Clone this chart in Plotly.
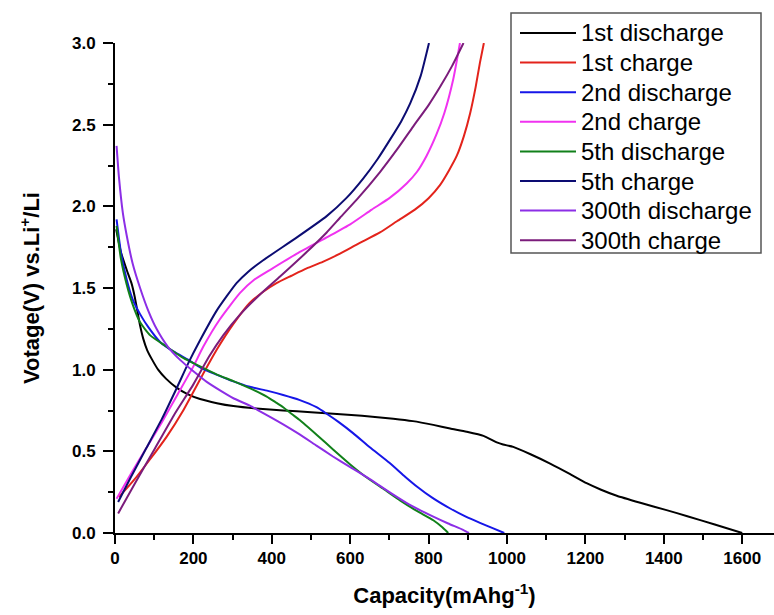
import plotly.graph_objects as go

# Galvanostatic charge/discharge profiles: capacity (mAh g^-1) vs voltage (V vs. Li+/Li)

cap_dis_1 = [3, 15, 30, 42, 50, 57, 64, 72, 82, 95, 110, 130, 157, 185, 217, 260, 302, 360, 429,
             500, 557, 630, 710, 760, 812, 855, 897, 940, 974, 990, 1016, 1060, 1110, 1160,
             1203, 1240, 1280, 1340, 1407, 1460, 1530, 1600]
volt_dis_1 = [1.86, 1.72, 1.61, 1.53, 1.45, 1.36, 1.27, 1.19, 1.12, 1.06, 1.00, 0.945, 0.89,
              0.85, 0.82, 0.795, 0.777, 0.762, 0.75, 0.74, 0.73, 0.718, 0.70, 0.685, 0.662, 0.64,
              0.62, 0.595, 0.555, 0.542, 0.527, 0.482, 0.425, 0.362, 0.305, 0.265, 0.228, 0.185,
              0.14, 0.103, 0.052, 0.0]

cap_chg_1 = [10, 47, 89, 132, 174, 217, 259, 302, 344, 380, 412, 450, 489, 530, 574, 620, 676,
             720, 765, 800, 829, 852, 872, 890, 906, 920, 931, 941]
volt_chg_1 = [0.22, 0.32, 0.45, 0.59, 0.75, 0.94, 1.12, 1.28, 1.41, 1.48, 1.53, 1.575, 1.62, 1.66,
              1.71, 1.77, 1.84, 1.91, 1.98, 2.05, 2.13, 2.22, 2.31, 2.43, 2.57, 2.73, 2.88, 3.0]

cap_dis_2 = [4, 15, 30, 45, 64, 85, 115, 150, 187, 220, 259, 300, 344, 390, 429, 470, 514, 540,
             570, 608, 650, 700, 740, 770, 810, 855, 895, 931, 965, 993]
volt_dis_2 = [1.92, 1.72, 1.55, 1.43, 1.34, 1.26, 1.17, 1.11, 1.06, 1.01, 0.97, 0.93, 0.895, 0.87,
              0.845, 0.815, 0.77, 0.73, 0.68, 0.61, 0.525, 0.43, 0.345, 0.285, 0.215, 0.15, 0.10,
              0.062, 0.028, 0.0]

cap_chg_2 = [4, 40, 80, 120, 160, 200, 225, 268, 319, 355, 395, 464, 540, 600, 655, 700, 744, 770,
             795, 820, 840, 863, 880]
volt_chg_2 = [0.21, 0.36, 0.52, 0.68, 0.85, 1.02, 1.14, 1.31, 1.47, 1.55, 1.61, 1.71, 1.81, 1.89,
              1.98, 2.05, 2.14, 2.21, 2.31, 2.44, 2.57, 2.78, 3.0]

cap_dis_5 = [4, 15, 30, 45, 64, 90, 132, 175, 217, 260, 302, 345, 387, 410, 429, 450, 472, 515,
             557, 600, 642, 685, 727, 770, 812, 835, 850]
volt_dis_5 = [1.88, 1.68, 1.52, 1.40, 1.29, 1.21, 1.14, 1.07, 1.02, 0.97, 0.93, 0.885, 0.835, 0.80,
              0.77, 0.73, 0.69, 0.60, 0.51, 0.42, 0.34, 0.27, 0.20, 0.135, 0.078, 0.035, 0.0]

cap_chg_5 = [8, 40, 80, 120, 157, 187, 217, 259, 285, 310, 340, 378, 464, 540, 590, 633, 670, 702,
             730, 753, 780, 801]
volt_chg_5 = [0.19, 0.34, 0.52, 0.70, 0.885, 1.04, 1.18, 1.36, 1.45, 1.53, 1.60, 1.67, 1.81, 1.94,
              2.05, 2.17, 2.29, 2.41, 2.52, 2.63, 2.80, 3.0]

cap_dis_300 = [4, 10, 20, 30, 45, 64, 85, 106, 135, 166, 200, 234, 270, 302, 344, 370, 400, 429,
               470, 514, 555, 599, 650, 700, 750, 812, 850, 889, 903]
volt_dis_300 = [2.37, 2.18, 1.96, 1.82, 1.65, 1.50, 1.36, 1.25, 1.14, 1.06, 0.99, 0.925, 0.87,
                0.825, 0.78, 0.745, 0.705, 0.665, 0.605, 0.535, 0.47, 0.405, 0.33, 0.25, 0.175,
                0.10, 0.058, 0.018, 0.0]

cap_chg_300 = [8, 50, 100, 150, 200, 240, 276, 320, 370, 421, 489, 540, 574, 620, 676, 720, 761,
               800, 829, 860, 889]
volt_chg_300 = [0.12, 0.30, 0.51, 0.72, 0.91, 1.08, 1.21, 1.34, 1.46, 1.57, 1.72, 1.84, 1.93, 2.05,
                2.21, 2.35, 2.49, 2.62, 2.73, 2.86, 3.0]

curve_names = ["1st discharge", "1st charge", "2nd discharge", "2nd charge",
               "5th discharge", "5th charge", "300th discharge", "300th charge"]
curve_caps = [cap_dis_1, cap_chg_1, cap_dis_2, cap_chg_2,
              cap_dis_5, cap_chg_5, cap_dis_300, cap_chg_300]
curve_volts = [volt_dis_1, volt_chg_1, volt_dis_2, volt_chg_2,
               volt_dis_5, volt_chg_5, volt_dis_300, volt_chg_300]
curve_colors = ["#000000", "#e3231b", "#1616e8", "#f032f0",
                "#11801a", "#0c0c72", "#8c2ee6", "#7b1c7b"]

x_ticks = [0, 200, 400, 600, 800, 1000, 1200, 1400, 1600]
y_ticks = [0.0, 0.5, 1.0, 1.5, 2.0, 2.5, 3.0]

# canvas geometry (pixels)
W, H = 774, 615
ML, MR, MT, MB = 115, 0, 43, 82
PX_PER_CAP = 0.392

FONT = "Liberation Sans, Arial, sans-serif"

fig = go.Figure()
for name, xs, ys, col in zip(curve_names, curve_caps, curve_volts, curve_colors):
    fig.add_trace(go.Scatter(
        x=xs, y=ys, mode="lines", name=name,
        line=dict(color=col, width=2, shape="spline", smoothing=0.5),
        showlegend=False,
    ))

plot_w = W - ML - MR
plot_h = H - MT - MB
x_max = plot_w / PX_PER_CAP


def paper_x(px):
    return (px - ML) / plot_w


def paper_y(py):
    return (H - MB - py) / plot_h


# legend box with line samples and labels
shapes = [dict(type="rect", xref="paper", yref="paper",
               x0=paper_x(511), x1=paper_x(761), y0=paper_y(253), y1=paper_y(13),
               line=dict(color="#555555", width=1.5), fillcolor="white", layer="above")]
annotations = []
row0, row_step = 33, 29.6
for i, (name, col) in enumerate(zip(curve_names, curve_colors)):
    yy = row0 + i * row_step
    shapes.append(dict(type="line", xref="paper", yref="paper",
                       x0=paper_x(520), x1=paper_x(576), y0=paper_y(yy), y1=paper_y(yy),
                       line=dict(color=col, width=2), layer="above"))
    annotations.append(dict(xref="paper", yref="paper", x=paper_x(579), y=paper_y(yy),
                            xanchor="left", yanchor="middle", showarrow=False,
                            text=name, font=dict(family=FONT, size=24, color="black")))

fig.update_layout(
    width=W, height=H,
    margin=dict(l=ML, r=MR, t=MT, b=MB, pad=0),
    paper_bgcolor="white", plot_bgcolor="white",
    font=dict(family=FONT, color="black"),
    shapes=shapes, annotations=annotations,
    showlegend=False,
)

fig.update_xaxes(
    range=[0, x_max], tickmode="array", tickvals=x_ticks,
    ticktext=[str(v) for v in x_ticks],
    ticks="outside", ticklen=9, tickwidth=2, tickcolor="black",
    minor=dict(dtick=100, tick0=0, ticks="outside", ticklen=5, tickwidth=2, tickcolor="black"),
    showline=True, linecolor="black", linewidth=2, mirror=False,
    showgrid=False, zeroline=False,
    tickfont=dict(family=FONT, size=17, color="black", weight="bold"),
    title=dict(text="Capacity(mAhg<sup>-1</sup>)", standoff=20,
               font=dict(family=FONT, size=22, color="black", weight="bold")),
)
fig.update_yaxes(
    range=[0, 3.0], tickmode="array", tickvals=y_ticks,
    ticktext=[f"{v:.1f}" for v in y_ticks],
    ticks="outside", ticklen=10, tickwidth=2, tickcolor="black", ticklabelstandoff=4,
    minor=dict(dtick=0.25, tick0=0, ticks="outside", ticklen=5, tickwidth=2, tickcolor="black"),
    showline=True, linecolor="black", linewidth=2, mirror=False,
    showgrid=False, zeroline=False,
    tickfont=dict(family=FONT, size=17, color="black", weight="bold"),
    title=dict(text="Votage(V) vs.Li<sup>+</sup>/Li", standoff=26,
               font=dict(family=FONT, size=22, color="black", weight="bold")),
)

fig.write_html("out.html")
